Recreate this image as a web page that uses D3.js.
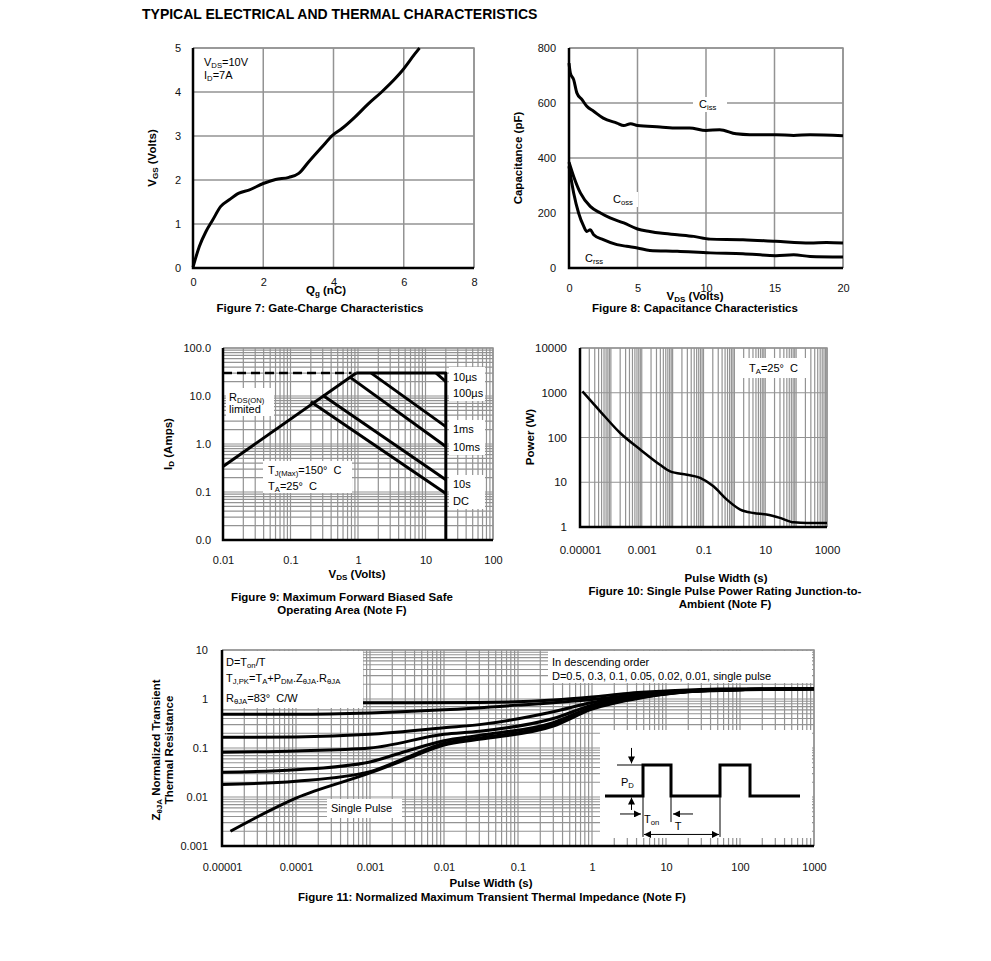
<!DOCTYPE html>
<html>
<head>
<meta charset="utf-8">
<script src="https://cdn.jsdelivr.net/npm/d3@7"></script>
<style>
  body { margin: 0; background: #fff; }
  text { white-space: pre; }
</style>
</head>
<body>
<script>
// ---- Figure 7: gate charge ----
const gateQg = [0, 0.18, 0.37, 0.56, 0.79, 1.03, 1.31, 1.59, 2.0, 2.35, 2.73, 3.01, 3.29, 3.67, 3.98, 4.24, 4.61, 4.99, 5.37, 5.75, 5.96, 6.31, 6.45];
const gateVgs = [0.02, 0.49, 0.83, 1.09, 1.4, 1.55, 1.7, 1.77, 1.92, 2.01, 2.06, 2.15, 2.41, 2.75, 3.02, 3.17, 3.43, 3.73, 4.0, 4.3, 4.49, 4.86, 5.0];
const gateXTicks = [0, 2, 4, 6, 8];
const gateYTicks = [0, 1, 2, 3, 4, 5];

// ---- Figure 8: capacitance ----
const cissPts = [[0, 745], [0.1, 709], [0.34, 685], [0.58, 636], [0.95, 612], [1.3, 588], [1.8, 570], [2.5, 545], [3.5, 527], [4, 518], [4.5, 525], [5, 518], [6.65, 513], [7.9, 509], [8.8, 509], [10, 500], [11, 503], [12.2, 488], [13.2, 485], [15.1, 485], [16.4, 482], [17.6, 485], [20, 481]];
const cossPts = [[0, 385], [0.34, 333], [0.83, 273], [1.55, 224], [2.3, 200], [3, 182], [4, 164], [5, 142], [5.9, 133], [6.65, 127], [7.9, 121], [9.1, 115], [10.3, 105], [12.7, 103], [15.1, 97], [17.6, 91], [18.8, 93], [20, 91]];
const crssPts = [[0, 370], [0.34, 273], [0.7, 200], [1.07, 152], [1.3, 133], [1.55, 139], [1.8, 121], [2.5, 103], [3.5, 85], [4.2, 79], [5, 73], [5.9, 64], [7.9, 61], [10.3, 55], [12.7, 52], [15.1, 45], [16.4, 48], [17.6, 42], [20, 40]];
const capXTicks = [0, 5, 10, 15, 20];
const capYTicks = [0, 200, 400, 600, 800];

// ---- Figure 9: safe operating area ----
const soaRdsLine = [[0.01, 0.34], [0.94, 30]];
const soaRdsDashed = [[0.01, 30], [0.8, 30]];
const soaLimit = [[0.94, 30], [20, 30], [20, 0.01]];
const soa10us = [[14.4, 30], [20, 20]];
const soa1ms = [[1.57, 30], [20, 2.3]];
const soa10ms = [[0.75, 25], [20, 0.89]];
const soa10s = [[0.3, 10.4], [20, 0.18]];
const soaDC = [[0.2, 7.6], [20, 0.093]];
const soaXTicks = [0.01, 0.1, 1, 10, 100];
const soaYTicks = [0.01, 0.1, 1, 10, 100];

// ---- Figure 10: single pulse power ----
const powerPts = [[1.2e-5, 1070], [4.5e-5, 385], [2e-4, 126], [8.9e-4, 54], [3.9e-3, 24.6], [8.3e-3, 17.5], [0.029, 14.7], [0.078, 12.5], [0.21, 8.1], [0.57, 4.1], [1.55, 2.45], [4.2, 2.05], [11, 1.9], [30, 1.6], [84, 1.27], [225, 1.23], [1000, 1.23]];
const powerXTicks = [1e-5, 0.001, 0.1, 10, 1000];
const powerYTicks = [1, 10, 100, 1000, 10000];

// ---- Figure 11: transient thermal impedance ----
const zthD05 = [[1e-5, 0.84], [1e-3, 0.84], [0.03, 0.85], [0.3, 0.95], [1, 1.1], [3, 1.3], [10, 1.45], [50, 1.6], [1000, 1.62]];
const zthD03 = [[1e-5, 0.49], [1e-4, 0.49], [1e-3, 0.52], [0.01, 0.6], [0.1, 0.75], [1, 0.98], [5, 1.25], [30, 1.5], [1000, 1.62]];
const zthD01 = [[1e-5, 0.166], [1e-4, 0.168], [1e-3, 0.19], [0.01, 0.26], [0.03, 0.3], [0.3, 0.55], [1, 0.85], [5, 1.2], [30, 1.5], [1000, 1.62]];
const zthD005 = [[1e-5, 0.082], [1e-4, 0.087], [1e-3, 0.1], [0.01, 0.19], [0.03, 0.22], [0.3, 0.4], [1, 0.75], [5, 1.15], [30, 1.48], [1000, 1.62]];
const zthD002 = [[1e-5, 0.032], [1e-4, 0.036], [1e-3, 0.052], [0.003, 0.085], [0.01, 0.14], [0.03, 0.18], [0.3, 0.33], [1, 0.68], [5, 1.12], [30, 1.47], [1000, 1.62]];
const zthD001 = [[1e-5, 0.018], [1e-4, 0.021], [1e-3, 0.033], [0.003, 0.062], [0.01, 0.125], [0.03, 0.16], [0.3, 0.3], [1, 0.65], [5, 1.1], [30, 1.46], [1000, 1.62]];
const zthSingle = [[1.3e-5, 0.002], [1e-4, 0.0095], [1e-3, 0.031], [0.003, 0.058], [0.01, 0.115], [0.03, 0.15], [0.3, 0.28], [1, 0.62], [5, 1.08], [30, 1.45], [1000, 1.62]];
const zthXTicks = [1e-5, 1e-4, 1e-3, 0.01, 0.1, 1, 10, 100, 1000];
const zthYTicks = [0.001, 0.01, 0.1, 1, 10];
// inset pulse diagram (own units)
const pulseT = [0, 38, 38, 66, 66, 115, 115, 145, 145, 195];
const pulseLevel = [0, 0, 1, 1, 0, 0, 1, 1, 0, 0];

const FONT = "'Liberation Sans', Arial, Helvetica, sans-serif";
const GRID = "#939393";
const BOLD = 11.5;

const svg = d3.select("body").append("svg")
  .attr("width", 991).attr("height", 961)
  .style("font-family", FONT);

svg.append("defs").append("marker")
  .attr("id", "arrow").attr("viewBox", "0 0 10 10")
  .attr("refX", 10).attr("refY", 5)
  .attr("markerWidth", 7).attr("markerHeight", 7)
  .attr("markerUnits", "userSpaceOnUse")
  .attr("orient", "auto-start-reverse")
  .append("path").attr("d", "M0,0L10,5L0,10z").attr("fill", "#000");

// text with subscripts: parts = [["V"], ["DS", "sub"], ["=10V"]]
const label = (parent, x, y, parts, opts = {}) => {
  const size = opts.size || 11;
  const t = parent.append("text")
    .attr("x", x).attr("y", y)
    .attr("font-size", size)
    .attr("font-weight", opts.bold ? "bold" : null)
    .attr("text-anchor", opts.anchor || "start")
    .attr("fill", "#000")
    .attr("transform", opts.rotate ? `rotate(-90, ${x}, ${y})` : null);
  let shift = 0;
  (typeof parts === "string" ? [[parts]] : parts).forEach(([s, kind]) => {
    const target = kind === "sub" ? size * 0.2 : 0;
    t.append("tspan")
      .attr("dy", target - shift)
      .attr("font-size", kind ? size * 0.7 : size)
      .text(s);
    shift = target;
  });
  return t;
};

const whiteBox = (parent, x, y, w, h) =>
  parent.append("rect").attr("x", x).attr("y", y).attr("width", w).attr("height", h).attr("fill", "#fff");

const logGrid = (lo, hi) =>
  d3.range(Math.round(Math.log10(lo)), Math.round(Math.log10(hi)))
    .flatMap((e) => d3.range(1, 10).map((k) => k * Math.pow(10, e)))
    .concat([hi]);

const grid = (g, x, y, xs, ys, width = 1) => {
  const [x0, x1] = x.range();
  const [y0, y1] = y.range();
  g.append("g").selectAll("line").data(xs).join("line")
    .attr("x1", (d) => x(d)).attr("x2", (d) => x(d))
    .attr("y1", y0).attr("y2", y1)
    .attr("stroke", GRID).attr("stroke-width", width);
  g.append("g").selectAll("line").data(ys).join("line")
    .attr("x1", x0).attr("x2", x1)
    .attr("y1", (d) => y(d)).attr("y2", (d) => y(d))
    .attr("stroke", GRID).attr("stroke-width", width);
  // gray top / right frame
  g.append("path")
    .attr("d", `M${x0},${y1}H${x1}V${y0}`)
    .attr("fill", "none").attr("stroke", GRID).attr("stroke-width", 1.5);
};

const axes = (g, x, y, cfg) => {
  const [x0, x1] = x.range();
  const [y0, y1] = y.range();
  const size = cfg.size || 11;
  g.append("path")
    .attr("d", `M${x0},${y1}V${y0}H${x1}`)
    .attr("fill", "none").attr("stroke", "#000").attr("stroke-width", 2.5);

  g.append("g").attr("transform", `translate(0,${y0})`)
    .call(d3.axisBottom(x).tickValues(cfg.xTicks).tickFormat(cfg.xFormat || ((d) => String(d))).tickSize(0).tickPadding(cfg.xPad))
    .call((a) => a.select(".domain").remove())
    .call((a) => a.selectAll("text").attr("font-size", size).attr("font-family", FONT).attr("fill", "#111"));

  g.append("g").attr("transform", `translate(${x0},0)`)
    .call(d3.axisLeft(y).tickValues(cfg.yTicks).tickFormat(cfg.yFormat || ((d) => String(d))).tickSize(0).tickPadding(cfg.yPad))
    .call((a) => a.select(".domain").remove())
    .call((a) => a.selectAll("text").attr("font-size", size).attr("font-family", FONT).attr("fill", "#111"));
};

const curve = (g, x, y, pts, width = 3, kind = d3.curveMonotoneX) =>
  g.append("path")
    .datum(pts)
    .attr("d", d3.line().x((d) => x(d[0])).y((d) => y(d[1])).curve(kind))
    .attr("fill", "none").attr("stroke", "#000").attr("stroke-width", width)
    .attr("stroke-linejoin", "round");

// page title
label(svg, 142, 19, "TYPICAL ELECTRICAL AND THERMAL CHARACTERISTICS", { size: 14, bold: true });

// ================= Figure 7 =================
{
  const g = svg.append("g");
  const x = d3.scaleLinear().domain([0, 8]).range([193, 474]);
  const y = d3.scaleLinear().domain([0, 5]).range([268, 48]);
  grid(g, x, y, gateXTicks.slice(1), gateYTicks.slice(1), 1.5);
  curve(g, x, y, d3.zip(gateQg, gateVgs), 3);
  label(g, 204, 66, [["V"], ["DS", "sub"], ["=10V"]]);
  label(g, 204, 79, [["I"], ["D", "sub"], ["=7A"]]);
  axes(g, x, y, { xTicks: gateXTicks, yTicks: gateYTicks, xPad: 10, yPad: 12 });
  label(g, 156, 158, [["V"], ["GS", "sub"], [" (Volts)"]], { bold: true, size: BOLD, anchor: "middle", rotate: true });
  label(g, 326, 294, [["Q"], ["g", "sub"], [" (nC)"]], { bold: true, size: BOLD, anchor: "middle" });
  label(g, 320, 312, "Figure 7: Gate-Charge Characteristics", { bold: true, size: BOLD, anchor: "middle" });
}

// ================= Figure 8 =================
{
  const g = svg.append("g");
  const x = d3.scaleLinear().domain([0, 20]).range([569, 843]);
  const y = d3.scaleLinear().domain([0, 800]).range([268, 48]);
  grid(g, x, y, capXTicks.slice(1), capYTicks.slice(1), 1.5);
  curve(g, x, y, cissPts, 3);
  curve(g, x, y, cossPts, 3);
  curve(g, x, y, crssPts, 3);
  whiteBox(g, 693, 97, 34, 15);
  label(g, 699, 108, [["C"], ["iss", "sub"]]);
  whiteBox(g, 608, 192, 30, 15);
  label(g, 613, 203, [["C"], ["oss", "sub"]]);
  label(g, 585, 262, [["C"], ["rss", "sub"]]);
  axes(g, x, y, { xTicks: capXTicks, yTicks: capYTicks, xPad: 16, yPad: 13 });
  label(g, 522, 158, "Capacitance (pF)", { bold: true, size: BOLD, anchor: "middle", rotate: true });
  label(g, 695, 300, [["V"], ["DS", "sub"], [" (Volts)"]], { bold: true, size: BOLD, anchor: "middle" });
  label(g, 695, 312, "Figure 8: Capacitance Characteristics", { bold: true, size: BOLD, anchor: "middle" });
}

// ================= Figure 9 =================
{
  const g = svg.append("g");
  const x = d3.scaleLog().domain([0.01, 100]).range([223, 493]);
  const y = d3.scaleLog().domain([0.01, 100]).range([540, 348]);
  grid(g, x, y, logGrid(0.01, 100), logGrid(0.01, 100), 1.2);
  curve(g, x, y, soaRdsDashed, 2.5, d3.curveLinear).attr("stroke-dasharray", "9,5");
  [soaRdsLine, soaLimit, soa10us, soa1ms, soa10ms, soa10s, soaDC]
    .forEach((pts) => curve(g, x, y, pts, 3, d3.curveLinear));
  whiteBox(g, 226, 388, 48, 28);
  label(g, 229, 401, [["R"], ["DS(ON)", "sub"]]);
  label(g, 229, 413, "limited");
  whiteBox(g, 263, 461, 89, 32);
  label(g, 268, 474, [["T"], ["J(Max)", "sub"], ["=150°\u00a0 C"]]);
  label(g, 268, 490, [["T"], ["A", "sub"], ["=25°\u00a0 C"]]);
  whiteBox(g, 449, 367, 36, 34);
  label(g, 453, 381, "10µs");
  label(g, 453, 397, "100µs");
  whiteBox(g, 449, 420, 36, 35);
  label(g, 453, 433, "1ms");
  label(g, 453, 451, "10ms");
  whiteBox(g, 449, 475, 36, 34);
  label(g, 453, 488, "10s");
  label(g, 453, 505, "DC");
  axes(g, x, y, { xTicks: soaXTicks, yTicks: soaYTicks, xPad: 16, yPad: 12, yFormat: d3.format(".1f") });
  label(g, 172, 444, [["I"], ["D", "sub"], [" (Amps)"]], { bold: true, size: BOLD, anchor: "middle", rotate: true });
  label(g, 357, 578, [["V"], ["DS", "sub"], [" (Volts)"]], { bold: true, size: BOLD, anchor: "middle" });
  label(g, 342, 601, "Figure 9: Maximum Forward Biased Safe", { bold: true, size: BOLD, anchor: "middle" });
  label(g, 342, 614, "Operating Area (Note F)", { bold: true, size: BOLD, anchor: "middle" });
}

// ================= Figure 10 =================
{
  const g = svg.append("g");
  const x = d3.scaleLog().domain([1e-5, 1000]).range([580, 827]);
  const y = d3.scaleLog().domain([1, 10000]).range([527, 348]);
  grid(g, x, y, logGrid(1e-5, 1000), powerYTicks.slice(1), 1.2);
  curve(g, x, y, powerPts, 2.5);
  whiteBox(g, 743, 358, 63, 20);
  label(g, 749, 372, [["T"], ["A", "sub"], ["=25°\u00a0 C"]]);
  axes(g, x, y, { xTicks: powerXTicks, yTicks: powerYTicks, xPad: 19, yPad: 13, size: 11.5 });
  label(g, 534, 437, "Power (W)", { bold: true, size: BOLD, anchor: "middle", rotate: true });
  label(g, 726, 582, "Pulse Width (s)", { bold: true, size: BOLD, anchor: "middle" });
  label(g, 725, 595, "Figure 10: Single Pulse Power Rating Junction-to-", { bold: true, size: BOLD, anchor: "middle" });
  label(g, 725, 608, "Ambient (Note F)", { bold: true, size: BOLD, anchor: "middle" });
}

// ================= Figure 11 =================
{
  const g = svg.append("g");
  const x = d3.scaleLog().domain([1e-5, 1000]).range([222, 814]);
  const y = d3.scaleLog().domain([0.001, 10]).range([846, 650]);
  grid(g, x, y, logGrid(1e-5, 1000), logGrid(0.001, 10), 1.2);
  [zthD05, zthD03, zthD01, zthD005, zthD002, zthD001, zthSingle]
    .forEach((pts) => curve(g, x, y, pts, 3));

  whiteBox(g, 223, 651, 140, 57);
  label(g, 226, 666, [["D=T"], ["on", "sub"], ["/T"]]);
  label(g, 226, 682, [["T"], ["J,PK", "sub"], ["=T"], ["A", "sub"], ["+P"], ["DM", "sub"], [".Z"], ["θJA", "sub"], [".R"], ["θJA", "sub"]]);
  label(g, 226, 702, [["R"], ["θJA", "sub"], ["=83°\u00a0 C/W"]]);

  whiteBox(g, 548, 651, 264, 32);
  label(g, 552, 666, "In descending order");
  label(g, 552, 680, "D=0.5, 0.3, 0.1, 0.05, 0.02, 0.01, single pulse");

  whiteBox(g, 327, 799, 75, 19);
  label(g, 331, 812, "Single Pulse");

  // inset pulse train diagram
  whiteBox(g, 600, 730, 212, 108);
  const ix = d3.scaleLinear().domain([0, 195]).range([605, 800]);
  const iy = d3.scaleLinear().domain([0, 1]).range([796, 765]);
  const thin = (pts, marks) => {
    const p = g.append("path").datum(pts)
      .attr("d", d3.line().x((d) => ix(d[0])).y((d) => iy(d[1])))
      .attr("fill", "none").attr("stroke", "#000").attr("stroke-width", 1);
    if (marks === "end" || marks === "both") p.attr("marker-end", "url(#arrow)");
    if (marks === "both") p.attr("marker-start", "url(#arrow)");
    return p;
  };
  thin([[12, 1], [38, 1]]);
  thin([[38, 1], [38, -1.32]]);
  thin([[66, 0], [66, -0.84]]);
  thin([[115, 0], [115, -1.32]]);
  thin([[26.5, 1.55], [26.5, 1.05]], "end");
  thin([[26.5, -0.45], [26.5, -0.05]], "end");
  thin([[15, -0.58], [36, -0.58]], "end");
  thin([[88, -0.58], [68, -0.58]], "end");
  thin([[39, -1.24], [114, -1.24]], "both");
  g.append("path").datum(d3.zip(pulseT, pulseLevel))
    .attr("d", d3.line().x((d) => ix(d[0])).y((d) => iy(d[1])))
    .attr("fill", "none").attr("stroke", "#000").attr("stroke-width", 3);
  label(g, ix(16), iy(0.33), [["P"], ["D", "sub"]]);
  label(g, ix(39), iy(-0.88), [["T"], ["on", "sub"]]);
  label(g, ix(73), iy(-1.1), "T", { anchor: "middle" });

  axes(g, x, y, { xTicks: zthXTicks, yTicks: zthYTicks, xPad: 17, yPad: 14 });
  label(g, 160, 750, [["Z"], ["θJA", "sub"], [" Normalized Transient"]], { bold: true, size: BOLD, anchor: "middle", rotate: true });
  label(g, 173, 750, "Thermal Resistance", { bold: true, size: BOLD, anchor: "middle", rotate: true });
  label(g, 491, 887, "Pulse Width (s)", { bold: true, size: BOLD, anchor: "middle" });
  label(g, 492, 901, "Figure 11: Normalized Maximum Transient Thermal Impedance (Note F)", { bold: true, size: BOLD, anchor: "middle" });
}
</script>
</body>
</html>
